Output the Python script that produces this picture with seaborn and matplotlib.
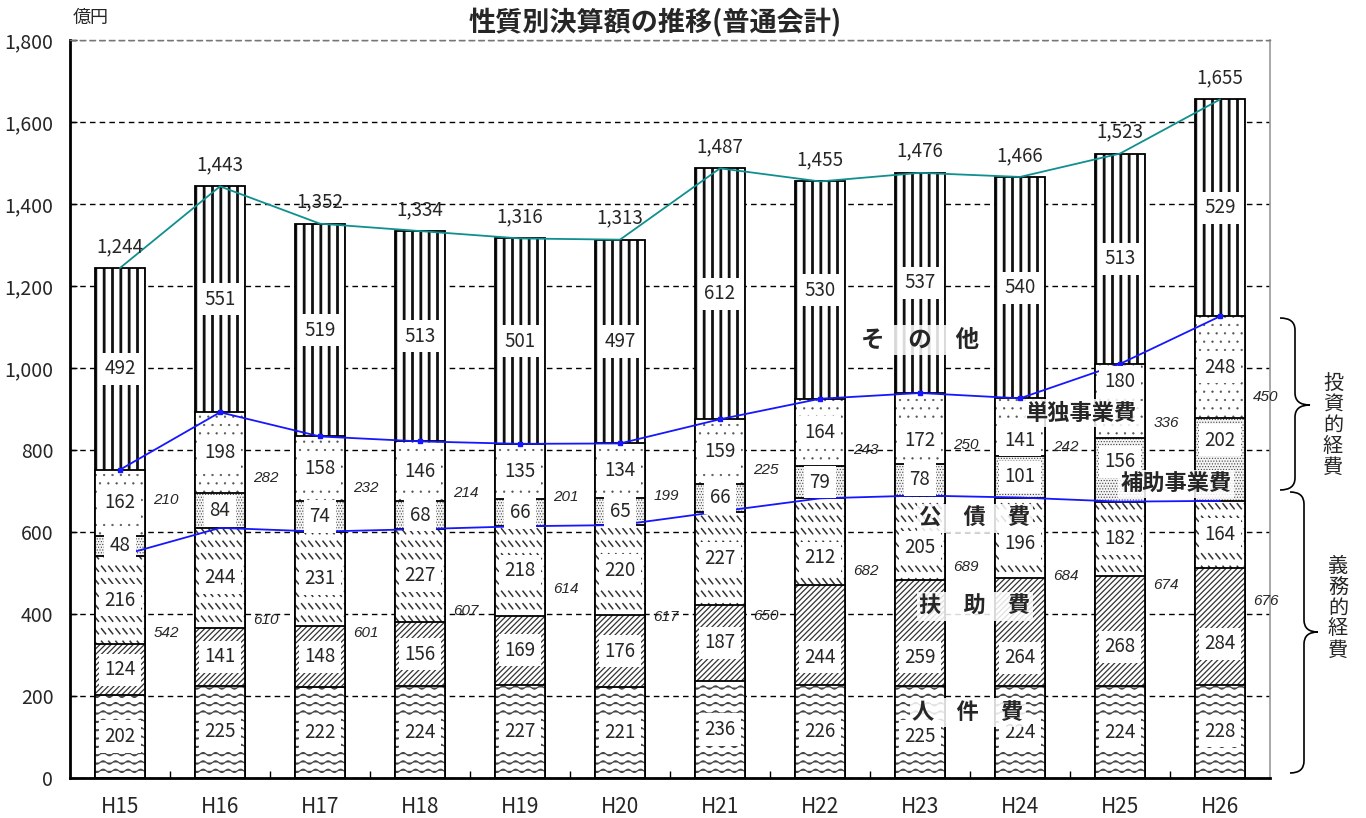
import numpy as np
import pandas as pd
import matplotlib
matplotlib.use("Agg")
import matplotlib.pyplot as plt
import matplotlib.hatch as mhatch
import matplotlib.colors as mcolors
from matplotlib.path import Path
from matplotlib.patches import PathPatch
from matplotlib.ticker import FuncFormatter, FixedLocator, MultipleLocator
import seaborn as sns

# ---------------------------------------------------------------- data (億円)
years = ["H15", "H16", "H17", "H18", "H19", "H20",
         "H21", "H22", "H23", "H24", "H25", "H26"]
personnel = [202, 225, 222, 224, 227, 221, 236, 226, 225, 224, 224, 228]      # 人件費
assistance = [124, 141, 148, 156, 169, 176, 187, 244, 259, 264, 268, 284]     # 扶助費
debt = [216, 244, 231, 227, 218, 220, 227, 212, 205, 196, 182, 164]           # 公債費
subsidized = [48, 84, 74, 68, 66, 65, 66, 79, 78, 101, 156, 202]              # 補助事業費
independent = [162, 198, 158, 146, 135, 134, 159, 164, 172, 141, 180, 248]    # 単独事業費
other = [492, 551, 519, 513, 501, 497, 612, 530, 537, 540, 513, 529]          # その他
totals = [1244, 1443, 1352, 1334, 1316, 1313, 1487, 1455, 1476, 1466, 1523, 1655]
mandatory = [542, 610, 601, 607, 614, 617, 650, 682, 689, 684, 674, 676]      # 義務的経費
investment = [210, 282, 232, 214, 201, 199, 225, 243, 250, 242, 336, 450]     # 投資的経費

# heights at which the italic subtotal labels sit
mandatory_label_y = [354, 385, 354, 407, 461, 393, 395, 505, 515, 493, 471, 432]
investment_label_y = [678, 732, 707, 695, 685, 688, 751, 800, 812, 807, 866, 929]

# value labels moved off their segment centre to clear the category names
label_y_override = {
    ("扶助費", "H22"): 295, ("扶助費", "H23"): 295, ("扶助費", "H24"): 293,
    ("扶助費", "H25"): 320, ("扶助費", "H26"): 327,
    ("公債費", "H22"): 537, ("公債費", "H23"): 563, ("公債費", "H24"): 571,
    ("補助事業費", "H25"): 771, ("補助事業費", "H26"): 824,
    ("単独事業費", "H23"): 824, ("単独事業費", "H24"): 824,
    ("単独事業費", "H25"): 966,
    ("人件費", "H23"): 102,
}


# ------------------------------------------------------ extra hatch patterns
class WaveHatch(mhatch.HatchPatternBase):
    """Rows of small sine waves (hatch character 'o')."""
    steps = 96

    def __init__(self, hatch, density):
        self.num_rows = int(hatch.count("o") * density)
        self.num_vertices = self.num_rows * (self.steps + 1)

    def set_vertices_and_codes(self, vertices, codes):
        n = self.steps + 1
        xs = np.linspace(0.0, 1.0, n)
        waves = max(1, int(round(self.num_rows * 0.65)))
        amp = 0.2 / self.num_rows
        for i in range(self.num_rows):
            y0 = (i + 0.5) / self.num_rows
            vertices[i * n:(i + 1) * n, 0] = xs
            vertices[i * n:(i + 1) * n, 1] = y0 + amp * np.sin(2 * np.pi * waves * xs)
            codes[i * n] = Path.MOVETO
            codes[i * n + 1:(i + 1) * n] = Path.LINETO


class DashHatch(mhatch.HatchPatternBase):
    """Rows of short back-slanted dashes (hatch character '*')."""

    def __init__(self, hatch, density):
        self.num_rows = int(hatch.count("*") * density * 0.7)
        self.per_row = 14 if self.num_rows else 0
        self.num_vertices = self.num_rows * self.per_row * 2

    def set_vertices_and_codes(self, vertices, codes):
        dy = 1.0 / self.num_rows
        dx = 1.0 / self.per_row
        k = 0
        for i in range(self.num_rows):
            yc = (i + 0.5) * dy
            for j in range(self.per_row):
                xc = (j + 0.5) * dx
                vertices[k] = (xc - 0.28 * dx, yc + 0.2 * dy)
                vertices[k + 1] = (xc + 0.28 * dx, yc - 0.2 * dy)
                codes[k] = Path.MOVETO
                codes[k + 1] = Path.LINETO
                k += 2


mhatch._hatch_types[:] = [t for t in mhatch._hatch_types
                          if t not in (mhatch.SmallCircles, mhatch.Stars)]
mhatch._hatch_types += [WaveHatch, DashHatch]

# ------------------------------------------------------------------ styling
sns.set_style("white")
plt.rcParams["font.family"] = ["Noto Sans CJK JP", "DejaVu Sans"]
plt.rcParams["hatch.linewidth"] = 1.0

W, H = 1366, 818
fig = plt.figure(figsize=(W / 100, H / 100), dpi=100)
ax = fig.add_axes([70 / W, 40 / H, 1200 / W, 738 / H])

df = pd.DataFrame({"year": years})
cum_mandatory = np.array(mandatory)
layers = [
    # name, cumulative top, hatch, face, hatch width, hatch colour
    ("その他", np.array(totals), "||", "white", 2.0, "#111111"),
    ("単独事業費", cum_mandatory + np.array(investment), "..", "white", 0.4, "#555555"),
    ("補助事業費", cum_mandatory + np.array(subsidized), "......", "#f4f4f4", 0.5, "#444444"),
    ("公債費", cum_mandatory, "**", "white", 1.1, "#333333"),
    ("扶助費", np.array(personnel) + np.array(assistance), "//////", "white", 0.9, "#333333"),
    ("人件費", np.array(personnel), "oo", "white", 0.8, "#444444"),
]

for name, cum, hatch, face, hlw, hcol in layers:
    before = len(ax.patches)
    sns.barplot(data=df.assign(value=cum), x="year", y="value", order=years,
                color=face, saturation=1, width=0.5, errorbar=None,
                edgecolor="black", linewidth=1.3, hatch=hatch, ax=ax)
    for p in ax.patches[before:]:
        if hasattr(p, "set_hatch_linewidth"):
            p.set_hatch_linewidth(hlw)
        p._hatch_color = mcolors.to_rgba(hcol)

xs = np.arange(len(years))

# connecting lines: totals and the two expense-group boundaries
ax.plot(xs, totals, color="#108f8f", lw=1.3, zorder=2.2)
ax.plot(xs, cum_mandatory + np.array(investment), color="#1616ff", lw=1.3,
        marker="s", ms=3.5, zorder=2.2)
ax.plot(xs, mandatory, color="#1616ff", lw=1.3, zorder=2.2)

# segment values
box = dict(boxstyle="square,pad=0.3", fc="white", ec="none")
segments = [("人件費", personnel), ("扶助費", assistance), ("公債費", debt),
            ("補助事業費", subsidized), ("単独事業費", independent),
            ("その他", other)]
for i, yr in enumerate(years):
    base = 0
    for name, seg in segments:
        v = seg[i]
        y = label_y_override.get((name, yr), base + v / 2)
        ax.text(i, y, f"{v}", ha="center", va="center",
                fontsize=13.5, bbox=box, zorder=4)
        base += v
    ax.annotate(f"{totals[i]:,}", (i, totals[i]), xytext=(0, 8),
                textcoords="offset points", ha="center", va="bottom",
                fontsize=13.5, zorder=4)
    ax.text(i + 0.46, mandatory_label_y[i], f"{mandatory[i]}", ha="center",
            va="center", fontsize=11, style="italic", family="Liberation Sans",
            zorder=4)
    ax.text(i + 0.46, investment_label_y[i], f"{investment[i]}", ha="center",
            va="center", fontsize=11, style="italic", family="Liberation Sans",
            zorder=4)

# category names inside the plot
lbox = dict(boxstyle="square,pad=0.12", fc="white", ec="none", alpha=0.85)
ax.text(8.0, 1068, "そ\u3000の\u3000他", ha="center", va="center", fontsize=17,
        fontweight="bold", bbox=lbox, zorder=5)
ax.text(9.62, 890, "単独事業費", ha="center", va="center", fontsize=16,
        fontweight="bold", bbox=lbox, zorder=5)
ax.text(10.56, 717, "補助事業費", ha="center", va="center", fontsize=16,
        fontweight="bold", bbox=lbox, zorder=5)
ax.text(8.55, 633, "公\u3000債\u3000費", ha="center", va="center", fontsize=16,
        fontweight="bold", bbox=lbox, zorder=5)
ax.text(8.55, 418, "扶\u3000助\u3000費", ha="center", va="center", fontsize=16,
        fontweight="bold", bbox=lbox, zorder=5)
ax.text(8.48, 160, "人\u3000件\u3000費", ha="center", va="center", fontsize=16,
        fontweight="bold", bbox=lbox, zorder=5)

# axes
ax.set_xlim(-0.5, len(years) - 0.5)
ax.set_ylim(0, 1800)
ax.yaxis.set_major_locator(MultipleLocator(200))
ax.yaxis.set_major_formatter(FuncFormatter(lambda v, p: f"{int(v):,}"))
ax.xaxis.set_minor_locator(FixedLocator(xs[:-1] + 0.5))
ax.set_xlabel("")
ax.set_ylabel("")
ax.tick_params(axis="x", which="major", length=0, pad=13, labelsize=15)
ax.tick_params(axis="x", which="minor", direction="in", length=5, width=1,
               color="black", bottom=True)
ax.tick_params(axis="y", which="major", direction="in", length=5, width=1,
               color="black", left=True, pad=12, labelsize=14)
ax.set_axisbelow(True)
ax.yaxis.grid(True, color="black", lw=1.0, ls=(0, (4, 3)))
ax.xaxis.grid(False)
for side in ("left", "bottom"):
    ax.spines[side].set_color("black")
    ax.spines[side].set_linewidth(2.0)
ax.spines["right"].set_color("#999999")
ax.spines["right"].set_linewidth(1.2)
ax.spines["top"].set_color("#777777")
ax.spines["top"].set_linewidth(1.0)
ax.spines["top"].set_linestyle((0, (4, 3)))

# titles
fig.text(655 / W, 1 - 23 / H, "性質別決算額の推移(普通会計)", ha="center",
         va="center", fontsize=19.5, fontweight="bold")
fig.text(73 / W, 1 - 18 / H, "億円", ha="left", va="center", fontsize=13)


# right-hand braces for the two expense groups
def brace(x_end, x_tip, y_top, y_bot, y_tip, r=12):
    xm = (x_end + x_tip) / 2
    pts = [(x_end, y_top), (xm, y_top), (xm, y_top + r),
           (xm, y_tip - r), (xm, y_tip), (x_tip, y_tip),
           (xm, y_tip), (xm, y_tip + r),
           (xm, y_bot - r), (xm, y_bot), (x_end, y_bot)]
    codes = [Path.MOVETO, Path.CURVE3, Path.CURVE3,
             Path.LINETO, Path.CURVE3, Path.CURVE3,
             Path.CURVE3, Path.CURVE3,
             Path.LINETO, Path.CURVE3, Path.CURVE3]
    verts = [(x / W, 1 - y / H) for x, y in pts]
    fig.add_artist(PathPatch(Path(verts, codes), transform=fig.transFigure,
                             fill=False, ec="black", lw=1.2))


brace(1280, 1310, 318, 490, 405)
brace(1290, 1318, 492, 773, 632)
fig.text(1333 / W, 1 - 425 / H, "\n".join("投資的経費"), ha="center",
         va="center", fontsize=14.5, linespacing=1.0)
fig.text(1338 / W, 1 - 608 / H, "\n".join("義務的経費"), ha="center",
         va="center", fontsize=14.5, linespacing=1.0)

fig.savefig("out.png", dpi=100)
